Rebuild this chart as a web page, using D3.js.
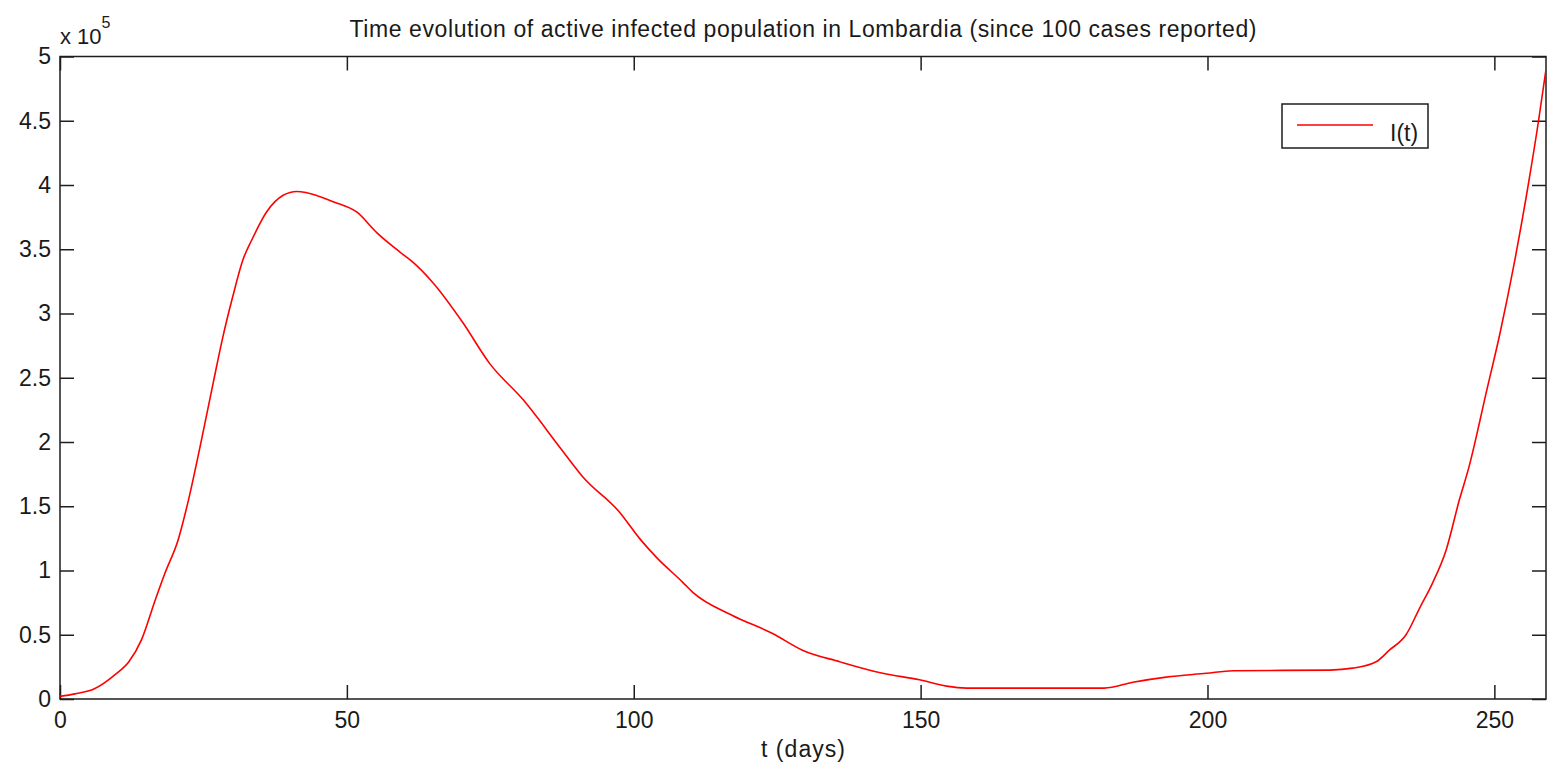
<!DOCTYPE html>
<html>
<head>
<meta charset="utf-8">
<script src="https://cdn.jsdelivr.net/npm/d3@7"></script>
<style>
  html, body { margin: 0; padding: 0; background: #fff; }
  svg { display: block; }
  text { font-family: "Liberation Sans", Arial, Helvetica, sans-serif; fill: #1a1a1a; }
</style>
</head>
<body>
<svg id="chart" width="1547" height="772"></svg>
<script>
// Active infected population I(t), in units of 1e5, by day since 100 cases
const days = [0, 2.6, 6, 9.6, 12, 14.2, 16.6, 18.3, 20.6, 22.4, 24.4, 26.7, 28.4, 30.1, 31.9, 33.4,
  36, 38.9, 41.3, 43, 47.6, 51.7, 55.2, 59.2, 61.5, 65, 70.2, 74.9, 80.7, 87.1, 91.1, 97.6, 101,
  104, 108.5, 110.3, 117.2, 124.2, 129.4, 135.9, 143.4, 149.8, 154.5, 158, 182, 187, 192.8, 199.8,
  204.4, 221.3, 225.3, 229.4, 231.7, 234.6, 237, 239.2, 241.6, 243.9, 245.6, 247.4, 248.3, 251,
  253.5, 255.9, 257.7, 259];
const infected = [0.02, 0.04, 0.08, 0.19, 0.29, 0.46, 0.77, 0.98, 1.24, 1.55, 1.96, 2.46, 2.82, 3.13, 3.42, 3.57,
  3.79, 3.92, 3.95, 3.94, 3.87, 3.79, 3.63, 3.48, 3.40, 3.24, 2.93, 2.61, 2.33, 1.96, 1.73, 1.45, 1.25,
  1.10, 0.91, 0.83, 0.65, 0.51, 0.38, 0.29, 0.20, 0.15, 0.10, 0.085, 0.085, 0.13, 0.17, 0.20,
  0.22, 0.225, 0.24, 0.29, 0.38, 0.50, 0.71, 0.90, 1.16, 1.55, 1.81, 2.15, 2.33, 2.85,
  3.4, 4.0, 4.5, 4.9];

const xTicks = [0, 50, 100, 150, 200, 250];
const yTicks = [0, 0.5, 1, 1.5, 2, 2.5, 3, 3.5, 4, 4.5, 5];
const yTickLabels = ["0", "0.5", "1", "1.5", "2", "2.5", "3", "3.5", "4", "4.5", "5"];

const titleText = "Time evolution of active infected population in Lombardia (since 100 cases reported)";
const xLabelText = "t (days)";
const legendText = "I(t)";

const svg = d3.select("#chart");
const plotLeft = 60, plotRight = 1546, plotTop = 56.5, plotBottom = 699;

const x = d3.scaleLinear().domain([0, 259]).range([plotLeft, plotRight]);
const y = d3.scaleLinear().domain([0, 5]).range([plotBottom, plotTop]);

const axisColor = "#1e1e1e";
const tickLen = 14;

// Box axes with inward ticks on all four sides
const axes = svg.append("g");
axes.append("rect")
  .attr("x", plotLeft).attr("y", plotTop)
  .attr("width", plotRight - plotLeft).attr("height", plotBottom - plotTop)
  .attr("fill", "none").attr("stroke", axisColor).attr("stroke-width", 1.5);

const xAxisB = d3.axisBottom(x).tickValues(xTicks).tickSize(-tickLen).tickPadding(13).tickFormat(d3.format("d"));
const xAxisT = d3.axisTop(x).tickValues(xTicks).tickSize(-tickLen).tickFormat("");
const yAxisL = d3.axisLeft(y).tickValues(yTicks).tickSize(-tickLen).tickPadding(9).tickFormat((d, i) => yTickLabels[i]);
const yAxisR = d3.axisRight(y).tickValues(yTicks).tickSize(-tickLen).tickFormat("");

function styleAxis(g) {
  g.select(".domain").remove();
  g.selectAll(".tick line").attr("stroke", axisColor).attr("stroke-width", 1.5);
  g.selectAll(".tick text").attr("font-size", 23).attr("fill", "#1a1a1a")
    .attr("font-family", "'Liberation Sans', Arial, sans-serif");
}

axes.append("g").attr("transform", `translate(0,${plotBottom})`).call(xAxisB).call(styleAxis);
axes.append("g").attr("transform", `translate(0,${plotTop})`).call(xAxisT).call(styleAxis);
axes.append("g").attr("transform", `translate(${plotLeft},0)`).call(yAxisL).call(styleAxis);
axes.append("g").attr("transform", `translate(${plotRight},0)`).call(yAxisR).call(styleAxis);

// Exponent marker above the y axis
const expo = svg.append("text").attr("x", 60).attr("y", 44).attr("font-size", 22);
expo.append("tspan").text("x 10");
expo.append("tspan").attr("dy", -16).attr("font-size", 16).text("5");

// Title and axis label
svg.append("text").attr("x", (plotLeft + plotRight) / 2).attr("y", 37)
  .attr("text-anchor", "middle").attr("font-size", 23)
  .attr("textLength", 907).attr("lengthAdjust", "spacing").text(titleText);
svg.append("text").attr("x", (plotLeft + plotRight) / 2).attr("y", 757)
  .attr("text-anchor", "middle").attr("font-size", 23)
  .attr("textLength", 84).attr("lengthAdjust", "spacing").text(xLabelText);

// Clip the curve to the plot box
svg.append("clipPath").attr("id", "plotClip")
  .append("rect").attr("x", plotLeft).attr("y", plotTop)
  .attr("width", plotRight - plotLeft).attr("height", plotBottom - plotTop);

const line = d3.line().x((d, i) => x(days[i])).y(d => y(d)).curve(d3.curveMonotoneX);
svg.append("path")
  .datum(infected)
  .attr("clip-path", "url(#plotClip)")
  .attr("d", line)
  .attr("fill", "none")
  .attr("stroke", "#ff0000")
  .attr("stroke-width", 1.6)
  .attr("stroke-linejoin", "round");

// Legend
const legend = svg.append("g");
legend.append("rect").attr("x", 1282).attr("y", 104).attr("width", 146).attr("height", 44)
  .attr("fill", "#fff").attr("stroke", axisColor).attr("stroke-width", 1.5);
legend.append("line").attr("x1", 1297).attr("x2", 1373).attr("y1", 125).attr("y2", 125)
  .attr("stroke", "#ff0000").attr("stroke-width", 1.6);
legend.append("text").attr("x", 1390).attr("y", 141).attr("font-size", 23).text(legendText);
</script>
</body>
</html>
